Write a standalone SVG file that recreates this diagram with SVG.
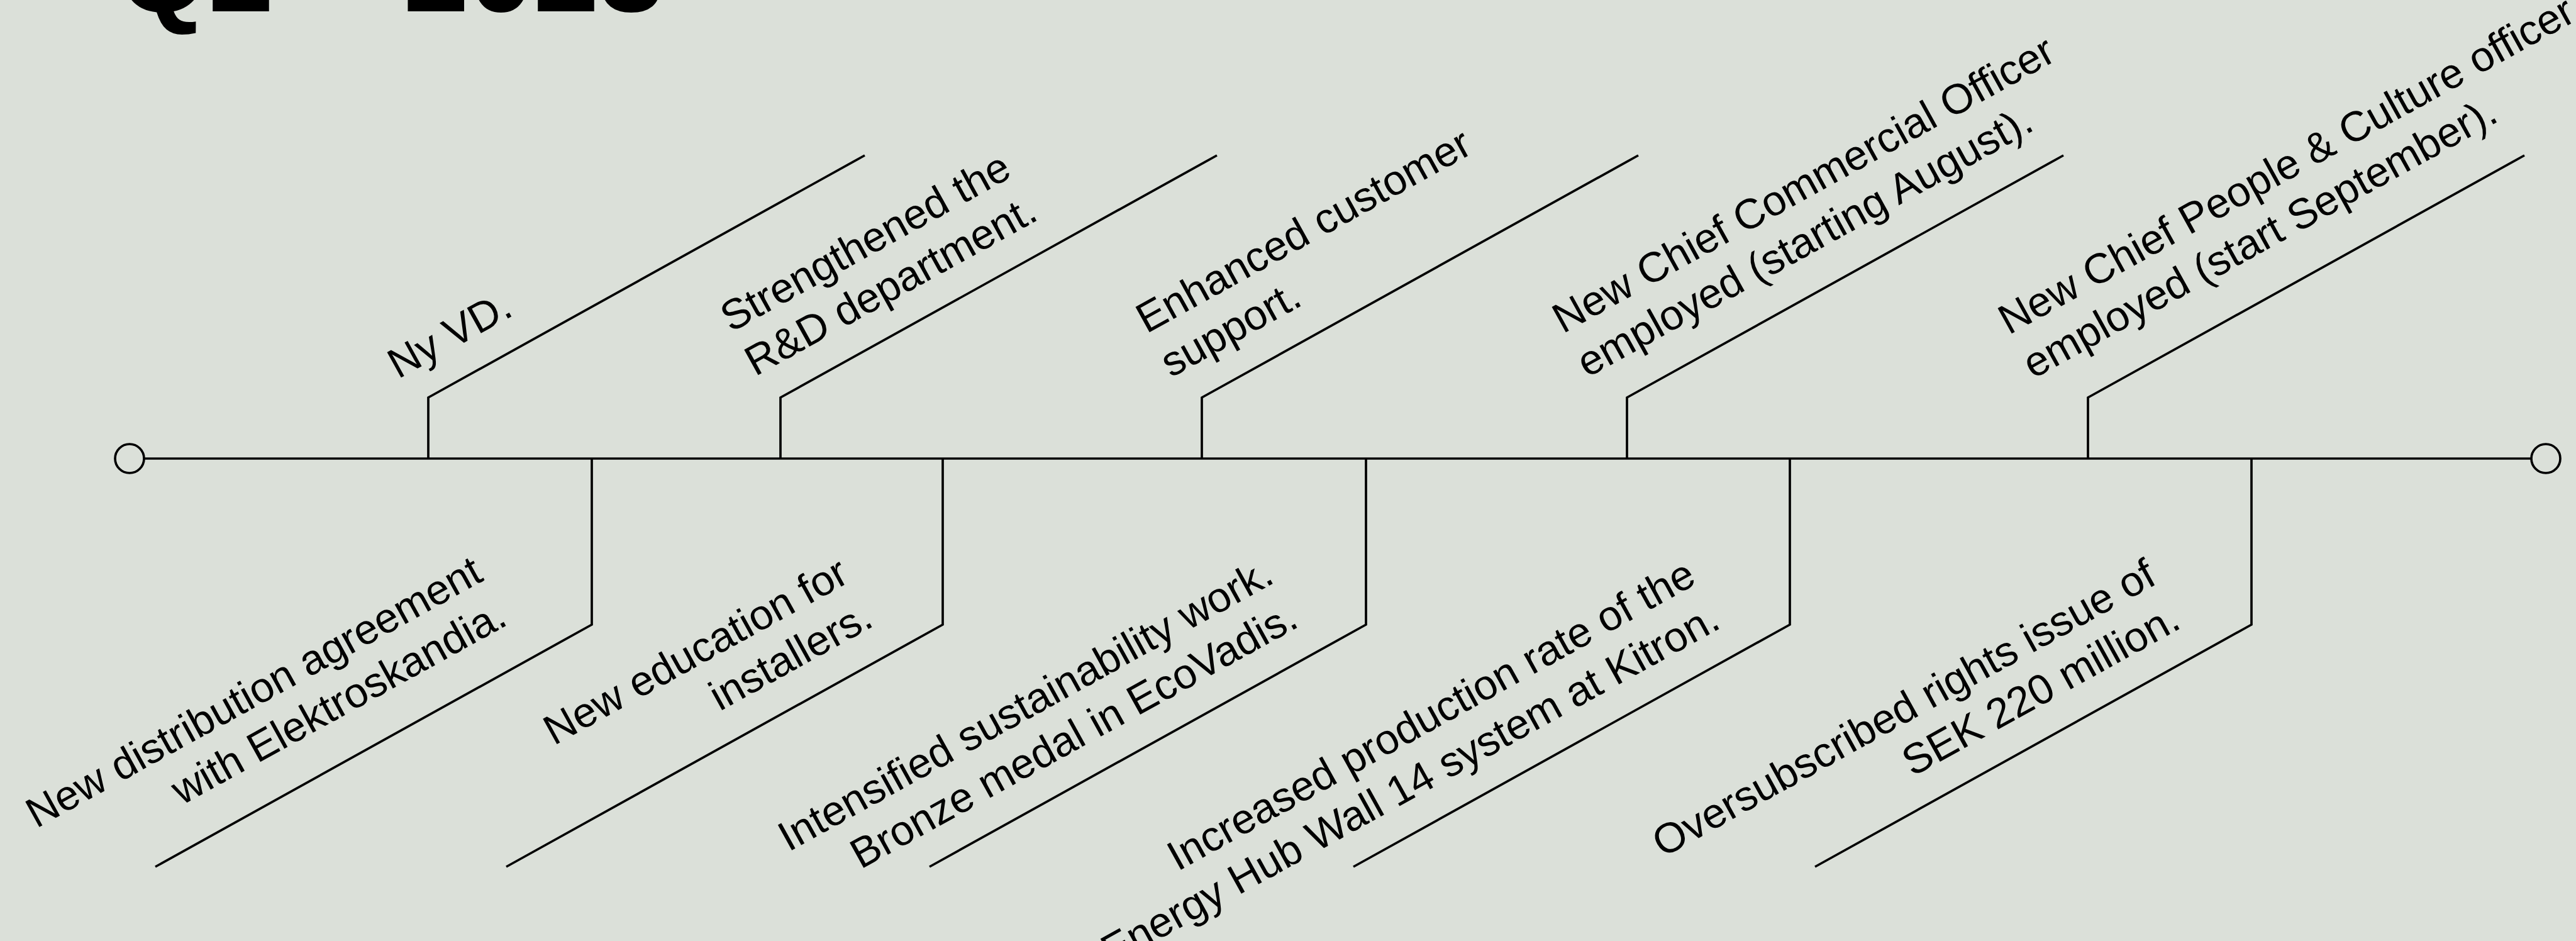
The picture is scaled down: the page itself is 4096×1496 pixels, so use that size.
<svg xmlns="http://www.w3.org/2000/svg" width="4096" height="1496" viewBox="0 0 4096 1496">
<style>
.bg{fill:#dbe0d9}
.ln{fill:none;stroke:#000;stroke-width:3.7;stroke-linejoin:miter}
.dot{fill:#dbe0d9;stroke:#000;stroke-width:3.7}
.t{font-family:"Liberation Sans",Arial,sans-serif;font-size:67px;fill:#000}
.e{text-anchor:end}
.title{font-family:"Liberation Sans",Arial,sans-serif;font-size:186px;font-weight:bold;fill:#000}
</style>
<rect class="bg" x="0" y="0" width="4096" height="1496"/>
<g id="title"><text class="title" x="187" y="18">Q2 – 2023</text></g>
<g id="connectors">
<line class="ln" x1="229" y1="729" x2="4025" y2="729"/>
<circle class="dot" cx="206" cy="729" r="23"/>
<circle class="dot" cx="4048" cy="729" r="23"/>
<polyline class="ln" points="681,729 681,632 1375,247"/>
<polyline class="ln" points="1241,729 1241,632 1935,247"/>
<polyline class="ln" points="1911,729 1911,632 2605,247"/>
<polyline class="ln" points="2587,729 2587,632 3281,247"/>
<polyline class="ln" points="3320,729 3320,632 4014,247"/>
<polyline class="ln" points="941,729 941,993 247,1378"/>
<polyline class="ln" points="1499,729 1499,993 805,1378"/>
<polyline class="ln" points="2172,729 2172,993 1478,1378"/>
<polyline class="ln" points="2846,729 2846,993 2152,1378"/>
<polyline class="ln" points="3580,729 3580,993 2886,1378"/>
</g>
<g id="u1"><text class="t" transform="translate(633,603) rotate(-29)">Ny VD.</text></g>
<g id="u2"><text class="t" transform="translate(1162,529) rotate(-29)"><tspan x="0" y="0">Strengthened the</tspan><tspan x="0" y="80">R&amp;D department.</tspan></text></g>
<g id="u3"><text class="t" transform="translate(1823,531) rotate(-29)"><tspan x="0" y="0">Enhanced customer</tspan><tspan x="0" y="80">support.</tspan></text></g>
<g id="u4"><text class="t" transform="translate(2485,531) rotate(-29)"><tspan x="0" y="0">New Chief Commercial Officer</tspan><tspan x="0" y="80">employed (starting August).</tspan></text></g>
<g id="u5"><text class="t" transform="translate(3194,533) rotate(-29)"><tspan x="0" y="0">New Chief People &amp; Culture officer</tspan><tspan x="0" y="80">employed (start September).</tspan></text></g>
<g id="l1"><text class="t e" transform="translate(771,922) rotate(-29)"><tspan x="0" y="0">New distribution agreement</tspan><tspan x="0" y="80">with Elektroskandia.</tspan></text></g>
<g id="l2"><text class="t e" transform="translate(1353,924) rotate(-29)"><tspan x="0" y="0">New education for</tspan><tspan x="0" y="80">installers.</tspan></text></g>
<g id="l3"><text class="t e" transform="translate(2029,925) rotate(-29)"><tspan x="0" y="0">Intensified sustainability work.</tspan><tspan x="0" y="80">Bronze medal in EcoVadis.</tspan></text></g>
<g id="l4"><text class="t e" transform="translate(2700,927) rotate(-29)"><tspan x="0" y="0">Increased production rate of the</tspan><tspan x="0" y="80">Energy Hub Wall 14 system at Kitron.</tspan></text></g>
<g id="l5"><text class="t e" transform="translate(3432,927) rotate(-29)"><tspan x="0" y="0">Oversubscribed rights issue of</tspan><tspan x="0" y="80">SEK 220 million.</tspan></text></g>
</svg>
